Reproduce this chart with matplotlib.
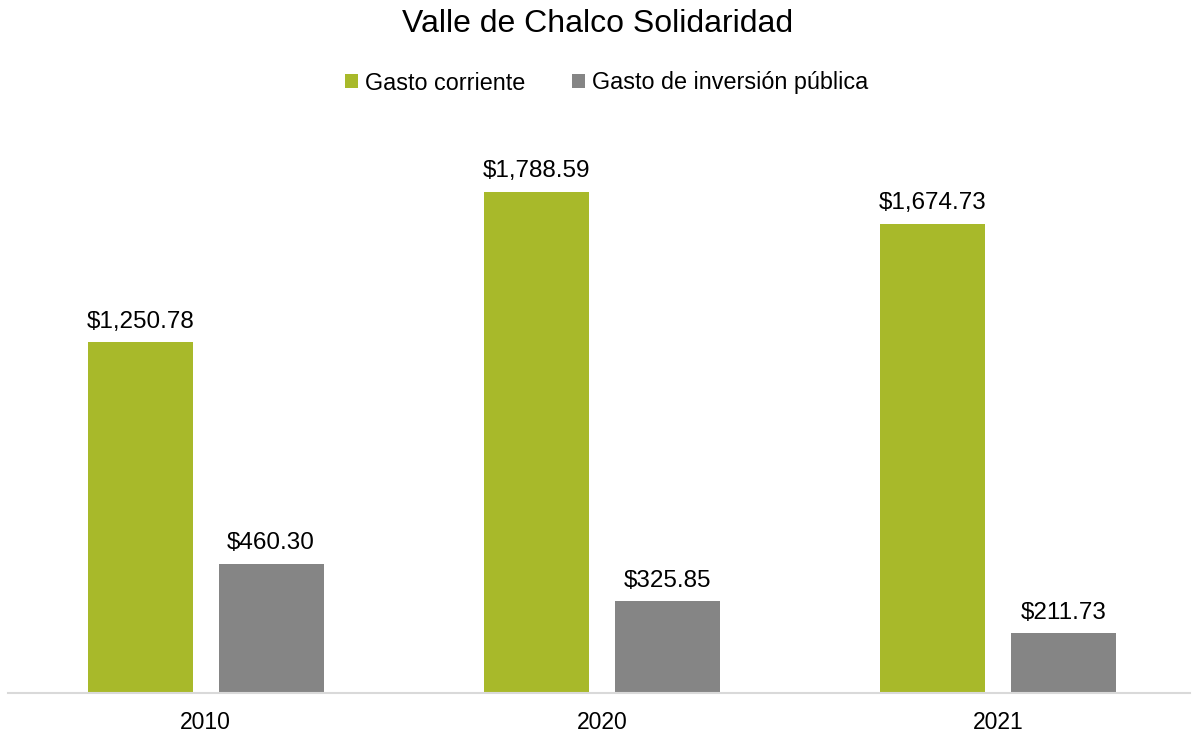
import matplotlib
matplotlib.use("Agg")
import matplotlib.pyplot as plt
import numpy as np

plt.rcParams['font.family'] = ['Liberation Sans', 'DejaVu Sans']

years = ["2010", "2020", "2021"]
gasto_corriente = [1250.78, 1788.59, 1674.73]
gasto_inversion = [460.30, 325.85, 211.73]
series_names = ["Gasto corriente", "Gasto de inversión pública"]
colors = ["#A8B92A", "#858585"]

fig = plt.figure(figsize=(11.96, 7.33), dpi=100)
ax = fig.add_axes([8/1196, 1 - 692.5/733, (1190 - 8)/1196, (692.5 - 110)/733])

x = np.arange(len(years))
w = 0.265
off = 0.165
b1 = ax.bar(x - off, gasto_corriente, w, color=colors[0], label=series_names[0])
b2 = ax.bar(x + off, gasto_inversion, w, color=colors[1], label=series_names[1])

for bars, vals in ((b1, gasto_corriente), (b2, gasto_inversion)):
    for r, v in zip(bars, vals):
        ax.annotate(f"${v:,.2f}", (r.get_x() + r.get_width()/2, v),
                    xytext=(0, 7), textcoords="offset points",
                    ha="center", va="bottom", fontsize=17.5, color="#000000")

ax.set_xlim(-0.499, 2.485)
ax.set_ylim(0, 2081)
ax.set_xticks(x)
ax.set_xticklabels(years, fontsize=16.5)
ax.tick_params(axis='x', length=0, pad=13)
ax.set_yticks([])
for s in ["top", "right", "left"]:
    ax.spines[s].set_visible(False)
ax.spines["bottom"].set_color("#D9D9D9")
ax.spines["bottom"].set_linewidth(1.5)

fig.text(0.5, 1 - 24/733, "Valle de Chalco Solidaridad", ha="center", va="center", fontsize=23)
fig.legend(handles=[b1, b2], labels=series_names, loc="center", bbox_to_anchor=(0.507, 1 - 83/733),
           ncol=2, frameon=False, fontsize=16.8, handlelength=0.55, handleheight=0.55,
           handletextpad=0.3, columnspacing=2.0)

fig.savefig("out.png", dpi=100)
